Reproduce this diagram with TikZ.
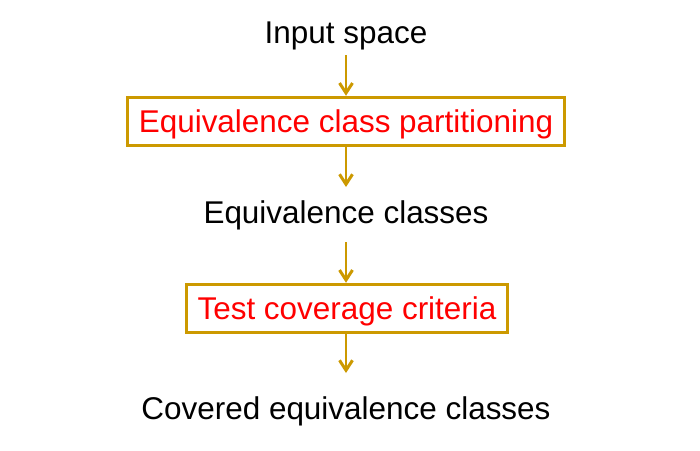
\documentclass[tikz,border=0pt]{standalone}
\usepackage{fontspec}
\setmainfont{Liberation Sans}
\usetikzlibrary{arrows.meta}
\definecolor{boxgold}{RGB}{204,153,0}
\definecolor{steptext}{RGB}{255,0,0}
\tikzset{
  lbl/.style={inner sep=0pt,font=\fontsize{17.9}{21}\selectfont},
  stepbox/.style={lbl,draw=boxgold,line width=1.7pt,text=steptext,
    inner xsep=0.23cm,minimum height=0.97cm,text height=0.5cm,text depth=0.06cm},
  flow/.style={draw=boxgold,line width=1.7pt,
    -{Straight Barb[length=0.2cm,width=0.26cm,line width=1.7pt]}}
}
\begin{document}
\begin{tikzpicture}[x=0.02cm,y=-0.02cm]
\useasboundingbox[fill=white] (0,0) rectangle (700,450);
\node[lbl] (space) at (346,36) {Input space};
\node[stepbox] (part) at (346,121.5) {Equivalence class partitioning};
\node[lbl] (classes) at (346,215) {Equivalence classes};
\node[stepbox] (crit) at (347,308.5) {Test coverage criteria};
\node[lbl] (covered) at (346,411) {Covered equivalence classes};
\draw[flow] (346,55) -- (part.north -| 346,0);
\draw[flow] (part.south -| 346,0) -- (346,187);
\draw[flow] (346,242) -- (crit.north -| 346,0);
\draw[flow] (crit.south -| 346,0) -- (346,373);
\end{tikzpicture}
\end{document}
